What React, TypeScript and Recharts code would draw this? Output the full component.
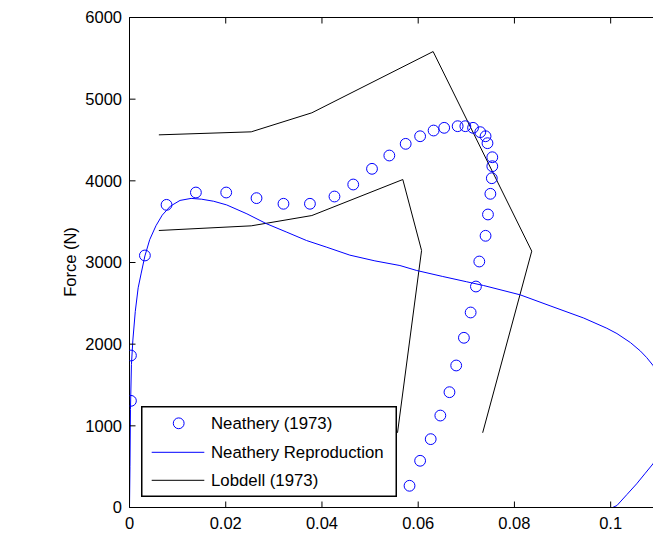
import React from "react";
import {ComposedChart, Legend, Line, Scatter, XAxis, YAxis} from "recharts";

// Neathery (1973) test points
const neatheryDisp = [
  0.0003, 0.0003, 0.0032, 0.0077, 0.0138, 0.0201, 0.0264, 0.032, 0.0375, 0.0426,
  0.0465, 0.0504, 0.054, 0.0574, 0.0604, 0.0632, 0.0654, 0.0682, 0.0698, 0.0714,
  0.0729, 0.074, 0.0744, 0.0754, 0.0754, 0.0753, 0.075, 0.0745, 0.074, 0.0727,
  0.072, 0.0709, 0.0695, 0.0679, 0.0665, 0.0646, 0.0626, 0.0604, 0.0582,
];
const neatheryForce = [
  1306, 1861, 3086, 3706, 3857, 3857, 3788, 3719, 3719, 3808,
  3955, 4147, 4310, 4453, 4546, 4616, 4649, 4669, 4669, 4649,
  4596, 4546, 4461, 4289, 4179, 4032, 3841, 3588, 3327, 3012,
  2706, 2388, 2078, 1739, 1412, 1126, 837, 572, 266,
];

// Neathery reproduction curve (loops back past the right edge)
const reproDisp = [
  0, 0.0001, 0.0002, 0.0004, 0.0007, 0.0012, 0.0018, 0.0024, 0.0032, 0.0042,
  0.0055, 0.0068, 0.0085, 0.0105, 0.0128, 0.015, 0.0175, 0.0202, 0.0244, 0.0285,
  0.0327, 0.0368, 0.041, 0.0458, 0.051, 0.0562, 0.0597, 0.065, 0.07, 0.0736,
  0.0812, 0.0874, 0.0944, 0.0992, 0.1013, 0.1041, 0.1062, 0.1075, 0.1088, 0.11,
  0.1108, 0.1111, 0.1106, 0.1097, 0.1088, 0.1072, 0.1054, 0.1034, 0.1013, 0.1004,
];
const reproForce = [
  0, 500, 1200, 1750, 2050, 2400, 2690, 2860, 3080, 3280,
  3450, 3580, 3690, 3760, 3785, 3775, 3750, 3705, 3596, 3474,
  3371, 3269, 3187, 3090, 3020, 2963, 2902, 2830, 2765, 2718,
  2604, 2470, 2320, 2195, 2130, 2020, 1915, 1835, 1740, 1560,
  1330, 1070, 840, 680, 535, 420, 290, 160, 24, 0,
];

// Lobdell (1973) bounds
const lobdellLowDisp = [0.0061, 0.0253, 0.0379, 0.0568, 0.0607, 0.0557];
const lobdellLowForce = [3392, 3449, 3575, 4016, 3147, 915];
const lobdellHighDisp = [0.0061, 0.0253, 0.0379, 0.0631, 0.0836, 0.0734];
const lobdellHighForce = [4563, 4600, 4833, 5583, 3139, 915];

const xTicks = [0, 0.02, 0.04, 0.06, 0.08, 0.1];
const yTicks = [0, 1000, 2000, 3000, 4000, 5000, 6000];

const legendNames = ["Neathery (1973)", "Neathery Reproduction", "Lobdell (1973)"];

const zip = (xs: number[], fs: number[]) => xs.map((x, i) => ({x, f: fs[i]}));

const neathery = zip(neatheryDisp, neatheryForce);
const repro = zip(reproDisp, reproForce);
const lobdellLow = zip(lobdellLowDisp, lobdellLowForce);
const lobdellHigh = zip(lobdellHighDisp, lobdellHighForce);

const BLUE = "#0000ff";
const FONT = "'Liberation Sans', Arial, sans-serif";
const tickStyle = {fill: "#000", fontSize: 16.5, fontFamily: FONT};

const OpenCircle = (props: any) => (
    <circle cx={props.cx} cy={props.cy} r={5.4} fill="none" stroke={BLUE} strokeWidth={1}/>
);

const NoLabel = () => <g/>;

const LegendBox = () => (
    <svg width={256} height={91} style={{display: "block"}}>
      <rect x={0.75} y={0.75} width={254.5} height={89.5} fill="#fff" stroke="#000" strokeWidth={1.5}/>
      <circle cx={37.7} cy={17.3} r={5.4} fill="none" stroke={BLUE}/>
      <line x1={10.7} x2={63.3} y1={46.3} y2={46.3} stroke={BLUE}/>
      <line x1={10.7} x2={63.3} y1={74.3} y2={74.3} stroke="#000"/>
      {legendNames.map((name, i) => (
          <text key={name} x={70} y={[17.3, 46.3, 74.3][i]} dy="0.36em"
                style={{fontSize: 16.8, fontFamily: FONT, fill: "#000"}}>
            {name}
          </text>
      ))}
    </svg>
);

const App: React.FC = () => {
  return (
      <div style={{position: "absolute", left: 0, top: 0}}>
        <ComposedChart width={653} height={539}
                       margin={{top: 16.5, right: 0, bottom: 1.5, left: 69.5}}>
          <XAxis dataKey="x" type="number" domain={[0, 0.1088]} allowDataOverflow
                 ticks={xTicks} height={30} tickSize={-6} tickMargin={15.8}
                 axisLine={{stroke: "#000"}} tickLine={{stroke: "#000"}} tick={tickStyle}/>
          <XAxis xAxisId="top" orientation="top" dataKey="x" type="number" domain={[0, 0.1088]}
                 allowDataOverflow ticks={xTicks} height={1} tickSize={-6} tick={NoLabel}
                 axisLine={{stroke: "#000"}} tickLine={{stroke: "#000"}}/>
          <YAxis type="number" domain={[0, 6000]} ticks={yTicks} width={60}
                 tickSize={-6} tickMargin={13.5}
                 axisLine={{stroke: "#000"}} tickLine={{stroke: "#000"}} tick={tickStyle}
                 label={() => (
                     <text x={70} y={262} transform="rotate(-90, 70, 262)" textAnchor="middle"
                           dy="0.36em" style={{fontSize: 16.5, fontFamily: FONT, fill: "#000"}}>
                       Force (N)
                     </text>
                 )}/>
          <Line data={lobdellLow} dataKey="f" name="Lobdell (1973)" type="linear" stroke="#000"
                strokeWidth={1} dot={false} isAnimationActive={false}/>
          <Line data={lobdellHigh} dataKey="f" name="Lobdell (1973) upper" legendType="none" type="linear"
                stroke="#000" strokeWidth={1} dot={false} isAnimationActive={false}/>
          <Line data={repro} dataKey="f" name="Neathery Reproduction" type="linear" stroke={BLUE}
                strokeWidth={1} dot={false} isAnimationActive={false}/>
          <Scatter data={neathery} dataKey="f" name="Neathery (1973)" shape={OpenCircle}
                   isAnimationActive={false}/>
          <Legend layout="horizontal" verticalAlign="middle" align="center"
                  wrapperStyle={{left: 141, top: 405.5, width: 256, height: 91}}
                  content={() => <LegendBox/>}/>
        </ComposedChart>
      </div>
  );
};

export default App;
